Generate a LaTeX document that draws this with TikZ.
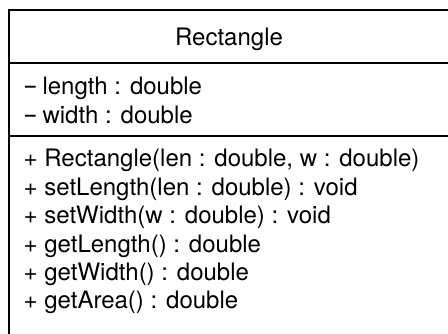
\documentclass[tikz,border=0pt]{standalone}
\usepackage{fontspec}
\setmainfont{TeX Gyre Heros}
\newcommand{\umldash}{\scalebox{0.8}[1.1]{–}}
\begin{document}
\begin{tikzpicture}[x=1pt,y=-1pt,
  umlline/.style={line width=1.5pt,black},
  umltext/.style={anchor=base west,inner sep=0pt,font=\fontsize{24}{29}\selectfont},
  umltitle/.style={anchor=base,inner sep=0pt,font=\fontsize{24}{29}\selectfont}]
\useasboundingbox (0,0) rectangle (448,333);
\clip (0,0) rectangle (448,333);
\fill[white] (0,0) rectangle (448,333);
\draw[umlline] (9,10) rectangle (470,360);
\draw[umlline] (9,63) -- (470,63);
\draw[umlline] (9,136) -- (470,136);
\node[umltitle] (title) at (229,45.5) {Rectangle};
\node[umltext] (a1) at (25,94) {\umldash{} length : double};
\node[umltext] (a2) at (25,123) {\umldash{} width : double};
\node[umltext] (m1) at (23.5,166) {+ Rectangle(len : double, w : double)};
\node[umltext] (m2) at (23.5,195) {+ setLength(len : double) : void};
\node[umltext] (m3) at (23.5,223) {+ setWidth(w : double) : void};
\node[umltext] (m4) at (23.5,252) {+ getLength() : double};
\node[umltext] (m5) at (23.5,280) {+ getWidth() : double};
\node[umltext] (m6) at (23.5,308) {+ getArea() : double};
\end{tikzpicture}
\end{document}
